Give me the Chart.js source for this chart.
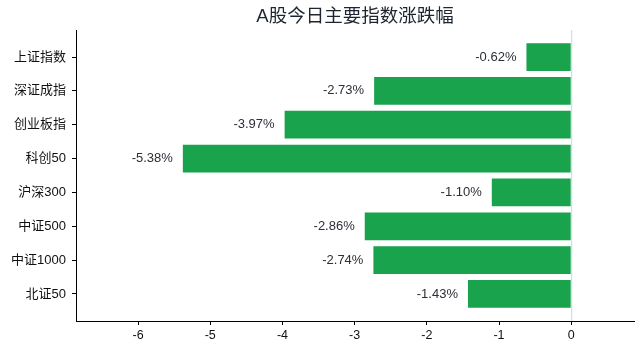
<!DOCTYPE html>
<html><head><meta charset="utf-8">
<script src="https://cdn.jsdelivr.net/npm/chart.js@4/dist/chart.umd.min.js"></script>
<style>html,body{margin:0;padding:0;background:#fff}#wrap{width:642px;height:353px}</style>
</head><body><div id="wrap"><canvas id="c" width="642" height="353"></canvas></div>
<script>
const categories = ["上证指数","深证成指","创业板指","科创50","沪深300","中证500","中证1000","北证50"];
const changes = [-0.62,-2.73,-3.97,-5.38,-1.10,-2.86,-2.74,-1.43];
const xTicks = [-6,-5,-4,-3,-2,-1,0];
const titleText = "A股今日主要指数涨跌幅";

const FONT = "'Liberation Sans', Arial, 'Noto Sans CJK SC', sans-serif";
const points = changes.map((v,i)=>({x:v,y:i}));

const overlay = {
  id:'overlay',
  beforeDatasetsDraw(chart){
    const {ctx, chartArea, scales} = chart;
    const x0 = scales.x.getPixelForValue(0);
    ctx.save();
    ctx.strokeStyle = '#cbd5e1';
    ctx.lineWidth = 1;
    ctx.beginPath();
    ctx.moveTo(x0+0.5, chartArea.top);
    ctx.lineTo(x0+0.5, chartArea.bottom);
    ctx.stroke();
    ctx.restore();
  },
  afterDatasetsDraw(chart){
    const {ctx, chartArea, scales} = chart;
    ctx.save();
    ctx.font = "13px " + FONT;
    ctx.fillStyle = '#2b2f36';
    ctx.textAlign = 'right';
    ctx.textBaseline = 'middle';
    changes.forEach((v,i)=>{
      const px = scales.x.getPixelForValue(v);
      const py = scales.y.getPixelForValue(i);
      ctx.fillText(v.toFixed(2)+'%', px-10, py);
    });
    ctx.font = "18.5px " + FONT;
    ctx.fillStyle = '#1e2530';
    ctx.textAlign = 'center';
    ctx.fillText(titleText, (chartArea.left+chartArea.right)/2, 17);
    ctx.restore();
  }
};

new Chart(document.getElementById('c'), {
  type:'bar',
  data:{datasets:[{data:points, backgroundColor:'#18a34c', borderWidth:0, barPercentage:0.82, categoryPercentage:1}]},
  options:{
    indexAxis:'y',
    responsive:false,
    animation:false,
    layout:{padding:{top:30,right:8,left:0,bottom:0}},
    plugins:{legend:{display:false}, tooltip:{enabled:false}},
    scales:{
      x:{
        type:'linear', min:-6.86, max:0.87, offset:false,
        afterBuildTicks(scale){ scale.ticks = xTicks.map(v=>({value:v})); },
        afterFit(scale){ scale.height = 32; },
        grid:{drawOnChartArea:false, drawTicks:true, tickLength:4, color:'#000', tickWidth:1, offset:false},
        border:{display:true, color:'#000', width:1},
        ticks:{color:'#111', font:{size:12.5, family:FONT}, padding:3}
      },
      y:{
        type:'linear', min:-0.8, max:7.8, reverse:true, offset:false, bounds:'data',
        afterBuildTicks(scale){ scale.ticks = categories.map((c,i)=>({value:i})); },
        afterFit(scale){ scale.width = 76; },
        grid:{drawOnChartArea:false, drawTicks:true, tickLength:4, color:'#000', tickWidth:1, offset:false},
        border:{display:true, color:'#000', width:1},
        ticks:{color:'#111', font:{size:13, family:FONT}, padding:6, callback:(v)=>categories[v] ?? ''}
      }
    }
  },
  plugins:[overlay]
});
</script></body></html>
